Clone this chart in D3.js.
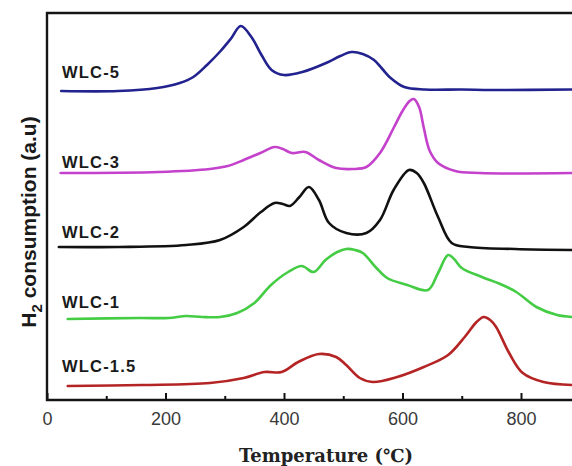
<!DOCTYPE html>
<html>
<head>
<meta charset="utf-8">
<script src="https://cdn.jsdelivr.net/npm/d3@7"></script>
<style>
  html, body { margin: 0; padding: 0; background: #fff; }
  svg { display: block; }
</style>
</head>
<body>
<svg id="chart" width="572" height="466"></svg>
<script>
// H2-TPR profiles: temperature (°C) vs. H2 consumption signal (a.u.)
const samples = ["WLC-5", "WLC-3", "WLC-2", "WLC-1", "WLC-1.5"];
const colors  = ["#23238f", "#c441cc", "#111111", "#45cc45", "#b52424"];
const offsets = [309, 227, 153, 81, 14];   // vertical stacking of the profiles (a.u.)

const wlc5 = [[24,0],[120,0],[186,3],[224,8],[247,14],[270,26],[293,40],[310,52],[327,65],[345,54],[362,36],[379,21],[400,16],[431,19],[471,28],[495,35],[514,39],[533,37],[552,31],[566,22],[580,13],[603,4],[638,1.5],[700,1.5],[750,1],[890,1.5]];
const wlc3 = [[23,0],[189,1],[275,4],[305,7],[332,13],[360,20],[384,26],[398,24],[413,20],[436,21],[459,13],[488,5],[516,4],[539,6],[562,20],[585,45],[600,62],[612,72],[619,74],[628,66],[636,45],[646,22],[660,10],[689,2],[730,0],[890,0]];
const wlc2 = [[20,0],[120,0],[235,2],[292,7],[332,20],[361,35],[384,44],[398,43],[410,41],[426,50],[442,60],[459,47],[476,24],[505,14],[539,14],[562,27],[585,57],[611,77],[624,74],[636,64],[660,30],[683,4],[712,0],[790,-2],[890,-3]];
const wlc1 = [[35,0],[157,1],[205,1],[235,3],[262,2],[292,2],[321,6],[350,16],[378,34],[407,47],[430,53],[450,47],[470,59],[490,67],[505,70],[520,69],[533,66],[556,51],[574,41],[608,34],[643,29],[660,46],[677,64],[687,60],[700,51],[734,42],[765,35],[792,27],[826,12],[861,4],[888,2]];
const wlc15 = [[35,0],[160,1],[275,3],[332,8],[367,14],[396,14],[424,24],[459,32],[488,29],[505,21],[528,8],[550,4],[591,9],[636,19],[677,31],[705,49],[725,64],[737,69],[748,66],[758,59],[780,33],[803,13],[838,4],[888,1]];
const profiles = [wlc5, wlc3, wlc2, wlc1, wlc15];

const xMajorTicks = [0, 200, 400, 600, 800];
const xMinorTicks = [100, 300, 500, 700, 900];

const svg = d3.select("#chart");
const plotLeft = 47, plotTop = 13, plotBottom = 400;

const x = d3.scaleLinear().domain([0, 900]).range([plotLeft, plotLeft + 533.25]);
const y = d3.scaleLinear().domain([0, 387]).range([plotBottom, plotTop]);

// profiles
const line = d3.line()
  .x(d => x(d[0]))
  .curve(d3.curveCatmullRom.alpha(0.5));

profiles.forEach((data, i) => {
  svg.append("path")
    .datum(data)
    .attr("fill", "none")
    .attr("stroke", colors[i])
    .attr("stroke-width", 2.6)
    .attr("stroke-linejoin", "round")
    .attr("stroke-linecap", "round")
    .attr("d", line.y(d => y(offsets[i] + d[1])));
});

// sample labels
const labelY = [78, 168, 238, 308, 372];
samples.forEach((s, i) => {
  svg.append("text")
    .attr("x", 62)
    .attr("y", labelY[i])
    .attr("font-family", "Liberation Sans, Arial, sans-serif")
    .attr("font-weight", "bold")
    .attr("font-size", 16.5)
    .attr("letter-spacing", 1.2)
    .attr("fill", "#1a1a1a")
    .text(s);
});

// x axis with inward ticks
const xAxis = svg.append("g")
  .attr("transform", `translate(0,${plotBottom})`)
  .call(d3.axisBottom(x).tickValues(xMajorTicks).tickSize(-7).tickPadding(12).tickFormat(d3.format("d")));
xAxis.select(".domain").remove();
xAxis.selectAll(".tick line").attr("stroke", "#111").attr("stroke-width", 2);
xAxis.selectAll(".tick text")
  .attr("font-family", "Liberation Sans, Arial, sans-serif")
  .attr("font-size", 18)
  .attr("fill", "#3a3a3a");

svg.append("g")
  .attr("transform", `translate(0,${plotBottom})`)
  .call(d3.axisBottom(x).tickValues(xMinorTicks).tickSize(-4).tickFormat(""))
  .call(g => g.select(".domain").remove())
  .selectAll(".tick line").attr("stroke", "#111").attr("stroke-width", 2);

// frame: bottom, left, top
svg.append("path")
  .attr("d", `M${x(900)},${plotTop}H${plotLeft}V${plotBottom}H${x(900)}`)
  .attr("fill", "none")
  .attr("stroke", "#151515")
  .attr("stroke-width", 2.4);

// axis titles
svg.append("text")
  .attr("x", 326)
  .attr("y", 462)
  .attr("text-anchor", "middle")
  .attr("font-family", "DejaVu Serif, serif")
  .attr("font-weight", "bold")
  .attr("font-size", 18)
  .attr("fill", "#222")
  .text("Temperature (℃)");

const yTitle = svg.append("text")
  .attr("transform", `translate(36,222) rotate(-90)`)
  .attr("text-anchor", "middle")
  .attr("font-family", "Liberation Sans, Arial, sans-serif")
  .attr("font-weight", "bold")
  .attr("font-size", 21)
  .attr("fill", "#1a1a1a");
yTitle.append("tspan").text("H");
yTitle.append("tspan").attr("font-size", 15).attr("dy", 6).text("2");
yTitle.append("tspan").attr("dy", -6).text(" consumption (a.u)");
</script>
</body>
</html>
